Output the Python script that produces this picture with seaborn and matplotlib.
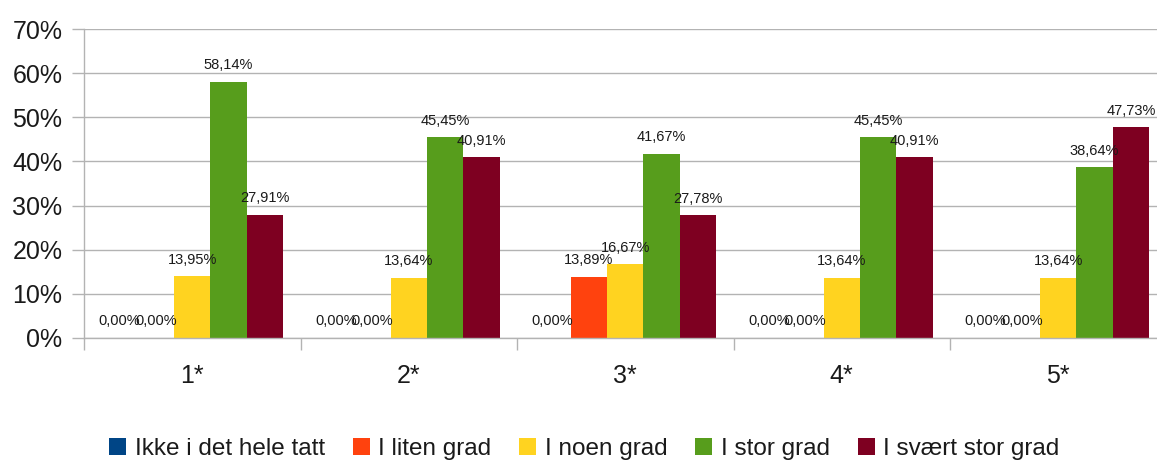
import matplotlib
matplotlib.use("Agg")
import matplotlib.pyplot as plt
import seaborn as sns
import pandas as pd
import numpy as np
from matplotlib.ticker import FixedLocator

categories = ["1*", "2*", "3*", "4*", "5*"]
series_names = ["Ikke i det hele tatt", "I liten grad", "I noen grad", "I stor grad", "I svært stor grad"]
ikke = [0.00, 0.00, 0.00, 0.00, 0.00]
liten = [0.00, 0.00, 13.89, 0.00, 0.00]
noen = [13.95, 13.64, 16.67, 13.64, 13.64]
stor = [58.14, 45.45, 41.67, 45.45, 38.64]
svaert = [27.91, 40.91, 27.78, 40.91, 47.73]
colors = ["#004586", "#ff420e", "#ffd320", "#579d1c", "#7e0021"]

series_values = [ikke, liten, noen, stor, svaert]
rows = []
for name, vals in zip(series_names, series_values):
    for c, v in zip(categories, vals):
        rows.append({"cat": c, "series": name, "value": v})
df = pd.DataFrame(rows)

sns.set_theme(style="white")
plt.rcParams["font.family"] = ["Liberation Sans", "DejaVu Sans"]

fig = plt.figure(figsize=(11.57, 4.65), dpi=100)
ax = fig.add_axes([84 / 1157, (465 - 337.7) / 465, 1082.5 / 1157, (337.7 - 29.3) / 465])

sns.barplot(data=df, x="cat", y="value", hue="series", order=categories,
            hue_order=series_names, palette=colors, width=0.84, gap=0,
            errorbar=None, linewidth=0, edgecolor="none", saturation=1, ax=ax)

for cont, vals in zip(ax.containers, series_values):
    labels = [f"{v:.2f}".replace(".", ",") + "%" for v in vals]
    ax.bar_label(cont, labels=labels, padding=7, fontsize=10.5, color="#1a1a1a")

ax.set_ylim(0, 70)
ax.set_xlim(-0.5, 4.5)
ax.set_yticks(np.arange(0, 71, 10))
ax.set_yticklabels([f"{t}%" for t in range(0, 71, 10)], fontsize=18, color="#1a1a1a")
ax.set_xticks(range(len(categories)))
ax.set_xticklabels(categories, fontsize=18, color="#1a1a1a")
ax.xaxis.set_minor_locator(FixedLocator([i - 0.5 for i in range(len(categories) + 1)]))
ax.tick_params(axis="x", which="major", bottom=True, length=0, pad=19)
ax.tick_params(axis="x", which="minor", bottom=True, length=8.6, width=1, color="#b3b3b3", direction="out")
ax.tick_params(axis="y", which="major", left=True, length=8.6, width=1, color="#b3b3b3", direction="out", pad=7)
ax.grid(axis="y", color="#b3b3b3", linewidth=1)
ax.set_axisbelow(True)
for s in ["top", "right"]:
    ax.spines[s].set_visible(False)
for s in ["left", "bottom"]:
    ax.spines[s].set_color("#b3b3b3")
    ax.spines[s].set_linewidth(1)
ax.set_xlabel("")
ax.set_ylabel("")

handles, labels = ax.get_legend_handles_labels()
ax.get_legend().remove()
fig.legend(handles, labels, loc="center", bbox_to_anchor=(0.505, 0.035), ncol=5,
           frameon=False, fontsize=17.5, handlelength=0.7, handleheight=0.7,
           handletextpad=0.35, columnspacing=1.15, labelcolor="#1a1a1a")

fig.savefig("out.png", dpi=100)
